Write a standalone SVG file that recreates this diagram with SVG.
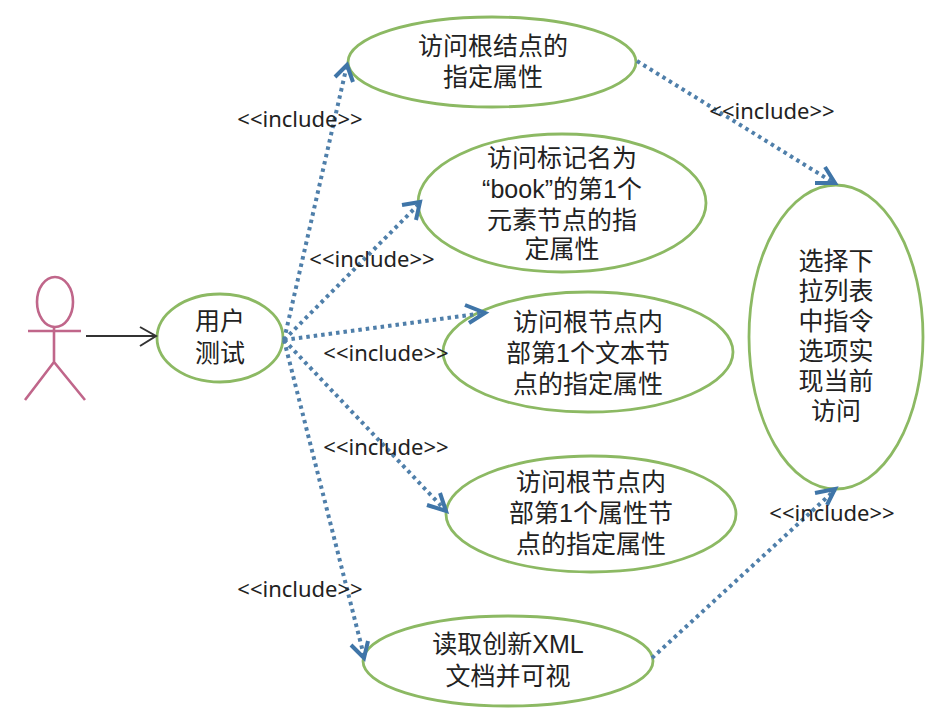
<svg xmlns="http://www.w3.org/2000/svg" width="942" height="720" viewBox="0 0 942 720">
<style>
.uc{fill:none;stroke:#8cb963;stroke-width:2.8}
.t{font-family:"Liberation Sans","Noto Sans CJK SC",sans-serif;font-size:25px;fill:#222;text-anchor:middle}
.l{font-family:"Noto Sans","Noto Sans CJK SC",sans-serif;font-size:22px;fill:#222;text-anchor:middle}
.d{fill:none;stroke:#4f7faa;stroke-width:4;stroke-dasharray:3.5 4}
.h{fill:none;stroke:#3f75a8;stroke-width:4}
.a{fill:none;stroke:#c0668a;stroke-width:2.6}
</style>
<rect width="942" height="720" fill="#fff"/>
<g id="actor"><ellipse class="a" cx="55" cy="302" rx="18" ry="25"/><path class="a" d="M54 327V362M28 331H81M54 362L25 400M54 362L85 400"/></g>
<g id="n-user"><ellipse class="uc" cx="220" cy="338" rx="63" ry="44"/><text class="t" x="220" y="330">用户</text><text class="t" x="220" y="362">测试</text></g>
<g id="n-a"><ellipse class="uc" cx="492" cy="62" rx="144" ry="45"/><text class="t" x="493" y="55">访问根结点的</text><text class="t" x="493" y="86">指定属性</text></g>
<g id="n-b"><ellipse class="uc" cx="562" cy="203" rx="144" ry="69"/><text class="t" x="562" y="167">访问标记名为</text><text class="t" x="562" y="198">“book”的第1个</text><text class="t" x="562" y="229">元素节点的指</text><text class="t" x="562" y="258">定属性</text></g>
<g id="n-c"><ellipse class="uc" cx="588" cy="352" rx="145" ry="60"/><text class="t" x="588" y="331">访问根节点内</text><text class="t" x="588" y="362">部第1个文本节</text><text class="t" x="588" y="393">点的指定属性</text></g>
<g id="n-d"><ellipse class="uc" cx="591" cy="514" rx="145" ry="58"/><text class="t" x="591" y="491">访问根节点内</text><text class="t" x="591" y="522">部第1个属性节</text><text class="t" x="591" y="553">点的指定属性</text></g>
<g id="n-e"><ellipse class="uc" cx="508" cy="661" rx="145" ry="45"/><text class="t" x="508" y="653">读取创新XML</text><text class="t" x="508" y="685">文档并可视</text></g>
<g id="n-f"><ellipse class="uc" cx="836" cy="337" rx="87" ry="152"/><text class="t" x="836" y="270">选择下</text><text class="t" x="836" y="300">拉列表</text><text class="t" x="836" y="330">中指令</text><text class="t" x="836" y="360">选项实</text><text class="t" x="836" y="390">现当前</text><text class="t" x="836" y="420">访问</text></g>
<g id="connectors">
<path class="d" d="M284 340L347 65"/><path class="h" d="M335 77L347 65L353 82"/>
<path class="d" d="M284 340L420 203"/><path class="h" d="M402 205L420 202L416 220"/>
<path class="d" d="M284 340L484 313"/><path class="h" d="M465 305L485 313L469 323"/>
<path class="d" d="M284 340L445 510"/><path class="h" d="M427 505L446 511L440 493"/>
<path class="d" d="M284 340L364 656"/><path class="h" d="M351 645L364 658L368 641"/>
<path class="d" d="M637 61L834 183"/><path class="h" d="M815 183L835 183L825 167"/>
<path class="d" d="M652 658L835 490"/><path class="h" d="M815 493L835 489L827 505"/>
<path fill="none" stroke="#333" stroke-width="2" d="M86 336H156M140 327L156 336L140 346"/>
</g>
<g id="labels">
<text class="l" x="300" y="127">&lt;&lt;include&gt;&gt;</text>
<text class="l" x="772" y="119">&lt;&lt;include&gt;&gt;</text>
<text class="l" x="372" y="267">&lt;&lt;include&gt;&gt;</text>
<text class="l" x="386" y="361">&lt;&lt;include&gt;&gt;</text>
<text class="l" x="386" y="455">&lt;&lt;include&gt;&gt;</text>
<text class="l" x="300" y="597">&lt;&lt;include&gt;&gt;</text>
<text class="l" x="832" y="521">&lt;&lt;include&gt;&gt;</text>
</g>
</svg>
